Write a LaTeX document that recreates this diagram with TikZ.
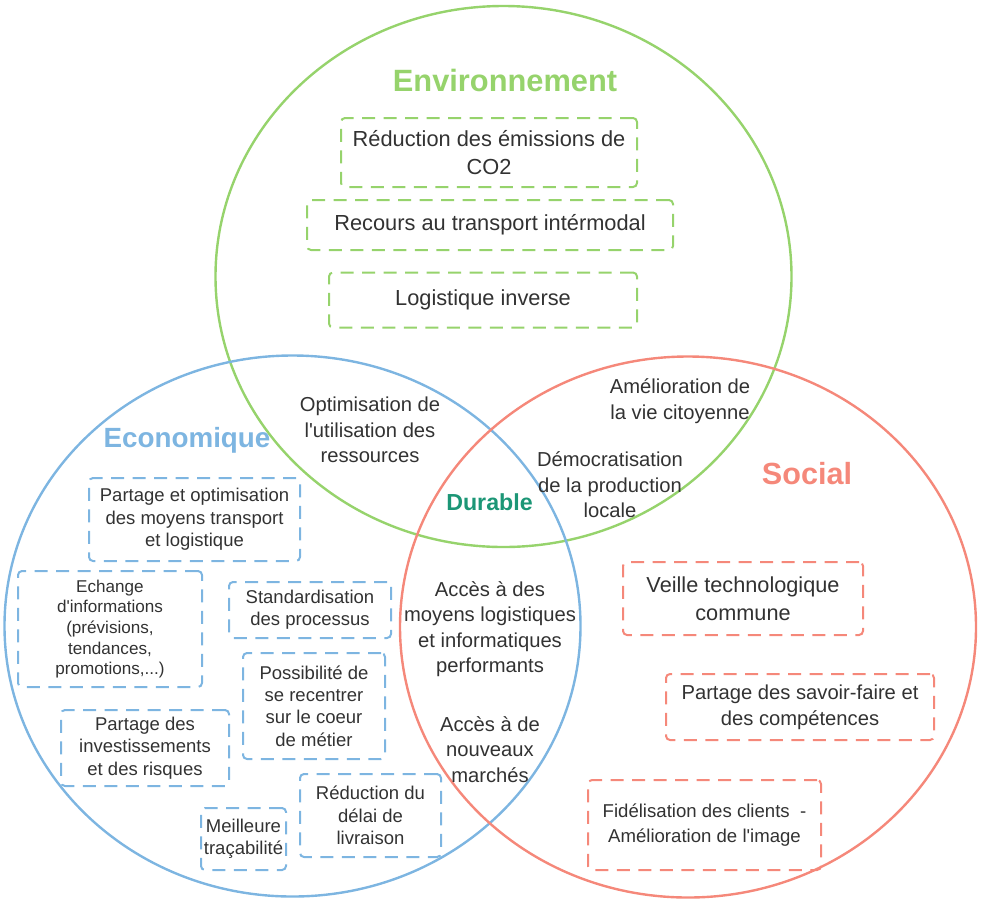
\documentclass[tikz,border=0pt]{standalone}
\usepackage{fontspec}
\setmainfont{Liberation Sans}
\usetikzlibrary{shapes.geometric}
\definecolor{envgreen}{RGB}{150,211,108}
\definecolor{ecoblue}{RGB}{125,181,225}
\definecolor{socred}{RGB}{245,136,122}
\definecolor{durteal}{RGB}{28,150,118}
\definecolor{txtgray}{RGB}{50,50,50}
\newcommand{\ap}{\textquotesingle}
\tikzset{
  circ/.style={ellipse, draw, line width=2.4pt, inner sep=0pt, minimum width=576pt, minimum height=541pt},
  dbox/.style={draw, dash pattern=on 13pt off 8.5pt, line width=2pt, rounded corners=4pt, align=center, inner sep=0pt, text=txtgray},
  gbox/.style={dbox, envgreen, text=txtgray, font=\fontsize{21.8}{28}\selectfont},
  bbox/.style={dbox, ecoblue, text=txtgray, font=\fontsize{18.5}{22.4}\selectfont},
  rbox/.style={dbox, socred, text=txtgray},
  plain/.style={align=center, text=txtgray, inner sep=0pt, font=\fontsize{20.2}{25.5}\selectfont},
  head/.style={inner sep=0pt, font=\bfseries}
}
\begin{document}
\begin{tikzpicture}[x=1pt,y=-1pt]
\useasboundingbox (0,0) rectangle (981,898);
% circles
\node[circ, envgreen] (env) at (503.5,276.5) {};
\node[circ, ecoblue] (eco) at (292.5,626) {};
\node[circ, socred] (soc) at (688,627) {};
% headings
\node[head, envgreen, font=\bfseries\fontsize{30.8}{36}\selectfont] (henv) at (505,80) {Environnement};
\node[head, ecoblue, font=\bfseries\fontsize{27.8}{32}\selectfont] (heco) at (187,440) {Economique};
\node[head, socred, font=\bfseries\fontsize{30.6}{36}\selectfont] (hsoc) at (807,474) {Social};
\node[head, durteal, font=\bfseries\fontsize{23.2}{28}\selectfont] (hdur) at (489.5,502) {Durable};
% environment boxes
\node[gbox, minimum width=296pt, minimum height=69pt] (g1) at (489,152.5) {Réduction des émissions de\\CO2};
\node[gbox, minimum width=366pt, minimum height=50pt] (g2) at (490,225) {Recours au transport intérmodal};
\node[gbox, minimum width=308pt, minimum height=55pt] (g3) at (483,300) {Logistique inverse};
% economic boxes
\node[bbox, minimum width=211pt, minimum height=83pt] (b1) at (194.5,519.5) {Partage et optimisation\\des moyens transport\\et logistique};
\node[bbox, minimum width=184pt, minimum height=116pt, font=\fontsize{17.1}{20.7}\selectfont] (b2) at (110,629) {Echange\\d\ap informations\\(prévisions,\\tendances,\\promotions,...)};
\node[bbox, minimum width=162pt, minimum height=56pt] (b3) at (310,610) {Standardisation\\des processus};
\node[bbox, minimum width=142pt, minimum height=106pt] (b4) at (314,706) {Possibilité de\\se recentrer\\sur le coeur\\de métier};
\node[bbox, minimum width=168pt, minimum height=76pt] (b5) at (145,748) {Partage des\\investissements\\et des risques};
\node[bbox, minimum width=85pt, minimum height=62pt] (b6) at (243.5,839) {Meilleure\\traçabilité};
\node[bbox, minimum width=141pt, minimum height=83pt] (b7) at (370.5,815.5) {Réduction du\\délai de\\livraison};
% social boxes
\node[rbox, minimum width=240pt, minimum height=73pt, font=\fontsize{21.7}{28}\selectfont] (r1) at (743,598.5) {Veille technologique\\commune};
\node[rbox, minimum width=268pt, minimum height=66pt, font=\fontsize{20.2}{26.4}\selectfont] (r2) at (800,707) {Partage des savoir-faire et\\des compétences};
\node[rbox, minimum width=233pt, minimum height=90pt, font=\fontsize{18.6}{25}\selectfont] (r3) at (704.5,825) {Fidélisation des clients\ \ -\\Amélioration de l\ap image};
% intersection texts
\node[plain] (t1) at (370,430) {Optimisation de\\l\ap utilisation des\\ressources};
\node[plain] (t2) at (680,401) {Amélioration de\\la vie citoyenne};
\node[plain] (t3) at (610,485) {Démocratisation\\de la production\\locale};
\node[plain] (t4) at (490,629) {Accès à des\\moyens logistiques\\et informatiques\\performants};
\node[plain] (t5) at (490,749.5) {Accès à de\\nouveaux\\marchés};
\end{tikzpicture}
\end{document}
